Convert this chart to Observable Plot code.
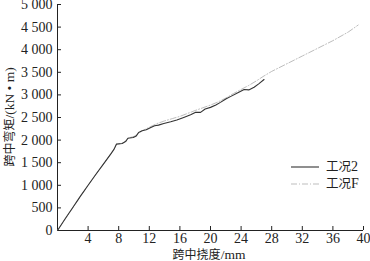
<!DOCTYPE html>
<html><head><meta charset="utf-8">
<script src="https://cdn.jsdelivr.net/npm/d3@7"></script>
<script src="https://cdn.jsdelivr.net/npm/@observablehq/plot@0.6"></script>
<style>
body{margin:0;background:#fff;}
#wrap{position:relative;width:370px;height:261px;}
#legend{position:absolute;left:291px;top:158px;font-size:13px;color:#222;line-height:14px;}
#legend div{display:flex;align-items:center;height:17px;}
#legend span{margin-left:7px;font-family:"Noto Sans CJK SC";font-size:12.5px;line-height:14px;}
#legend span b{font-weight:normal;font-family:"Liberation Serif";font-size:14px;}
</style></head>
<body><div id="wrap"><div id="legend"></div></div>
<script>
const seriesNames = ["工况2", "工况F"];
const case2X = [0,1,2,3,4,5,6,7,7.4,7.7,8.45,8.9,9.2,9.9,10.3,10.6,11.07,11.6,12.2,12.7,13.2,13.9,14.8,15.6,16.5,17.4,18.0,18.7,19.3,20.0,20.7,21.3,22.0,22.6,23.7,24.4,25.0,25.7,26.3,27.0];
const case2Y = [0,260,510,760,1000,1240,1470,1700,1800,1910,1925,1967,2042,2056,2093,2167,2205,2227,2278,2316,2331,2368,2405,2443,2501,2561,2613,2613,2688,2724,2777,2835,2911,2962,3058,3118,3111,3170,3244,3341];
const caseFX = [0,4,7.4,7.7,8.5,9,9.3,10,11,12,13,14,15,16,17,18,19,20,21,22,23,24,25,26,27,28,30,32,34,36,38,39.3];
const caseFY = [0,1000,1800,1910,1930,1990,2050,2080,2200,2285,2365,2425,2475,2525,2590,2655,2715,2775,2845,2930,3030,3120,3210,3310,3420,3520,3690,3860,4030,4200,4390,4545];
const xTicks = [4,8,12,16,20,24,28,32,36,40];
const yTicks = [0,500,1000,1500,2000,2500,3000,3500,4000,4500,5000];
const xLabel = ["跨中挠度", "/mm"];
const yLabel = ["跨中弯矩", "/(kN\u00a0•\u00a0m)"];

const case2 = case2X.map((x,i)=>({x, y: case2Y[i]}));
const caseF = caseFX.map((x,i)=>({x, y: caseFY[i]}));
const fmt = d3.formatLocale({decimal:".", thousands:"\u00a0", grouping:[3], currency:["",""]}).format(",");
const serif = '"Liberation Serif", "Times New Roman", serif';
const cjk = '"Noto Sans CJK SC"';

const plot = Plot.plot({
  width: 370, height: 261,
  marginLeft: 57, marginRight: 7, marginTop: 4, marginBottom: 31,
  style: {background: "#fff", overflow: "visible"},
  x: {domain: [0, 40]},
  y: {domain: [0, 5000]},
  marks: [
    Plot.axisX({ticks: xTicks, tickSize: -4, tickPadding: 7, label: null, stroke: "#222"}),
    Plot.axisY({ticks: yTicks, tickSize: -4, tickPadding: 9, tickFormat: fmt, label: null, stroke: "#222"}),
    Plot.ruleX([0], {stroke: "#222", strokeWidth: 1}),
    Plot.ruleY([0], {stroke: "#222", strokeWidth: 1}),
    Plot.line(caseF, {x: "x", y: "y", stroke: "#bdbdbd", strokeWidth: 1, strokeDasharray: "6,2,1,2"}),
    Plot.line(case2, {x: "x", y: "y", stroke: "#333", strokeWidth: 1.1})
  ]
});
const svg = d3.select(plot);
svg.selectAll("g").filter(function(){ return this.getAttribute("font-size"); }).attr("font-size", 14).attr("font-family", serif);
svg.selectAll("text").style("font-family", serif).style("font-size", "14px").attr("fill", "#222");

function label(sel, parts) {
  sel.append("tspan").style("font-family", cjk).style("font-size", "12px").text(parts[0]);
  sel.append("tspan").style("font-family", serif).style("font-size", "13.5px").text(parts[1]);
}
const xl = svg.append("text").attr("x", 209).attr("y", 259).attr("text-anchor", "middle").attr("fill", "#222");
label(xl, xLabel);
const yl = svg.append("text").attr("transform", "translate(14,117) rotate(-90)").attr("text-anchor", "middle").attr("fill", "#222");
label(yl, yLabel);
document.getElementById("wrap").prepend(plot);
plot.style.position = "absolute"; plot.style.left = "0"; plot.style.top = "0";

const leg = document.getElementById("legend");
const styles = [{stroke: "#333", dash: "none"}, {stroke: "#bdbdbd", dash: "6,2,1,2"}];
seriesNames.forEach((n, i) => {
  const d = document.createElement("div");
  d.innerHTML = `<svg width="28" height="4"><line x1="0" y1="2" x2="28" y2="2" stroke="${styles[i].stroke}" stroke-width="1.1" stroke-dasharray="${styles[i].dash}"/></svg><span>${n.slice(0,2)}<b>${n.slice(2)}</b></span>`;
  leg.appendChild(d);
});
</script></body></html>
